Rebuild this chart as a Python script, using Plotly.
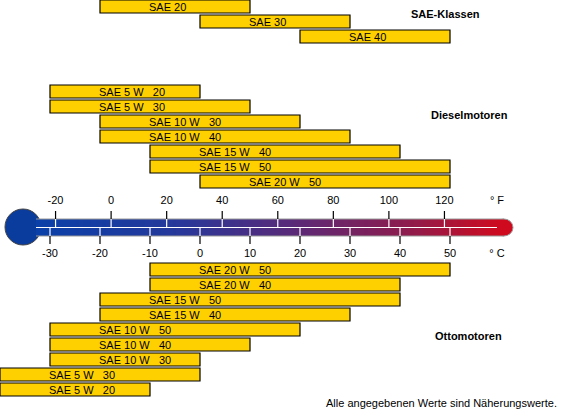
import plotly.graph_objects as go

# SAE-Klassen (Einbereichsöle), Temperaturbereich in °C
sae_namen = ["SAE 20", "SAE 30", "SAE 40"]
sae_von = [-20, 0, 20]
sae_bis = [10, 30, 50]

# Dieselmotoren
diesel_namen = ["SAE 5 W   20", "SAE 5 W   30", "SAE 10 W   30", "SAE 10 W   40",
                "SAE 15 W   40", "SAE 15 W   50", "SAE 20 W   50"]
diesel_von = [-30, -30, -20, -20, -10, -10, 0]
diesel_bis = [0, 10, 20, 30, 40, 50, 50]

# Ottomotoren
otto_namen = ["SAE 20 W   50", "SAE 20 W   40", "SAE 15 W   50", "SAE 15 W   40",
              "SAE 10 W   50", "SAE 10 W   40", "SAE 10 W   30", "SAE 5 W   30", "SAE 5 W   20"]
otto_von = [-10, -10, -20, -20, -30, -30, -30, -40, -40]
otto_bis = [50, 40, 40, 30, 20, 10, 0, 0, -10]

# Skalen am Thermometer
celsius_ticks = [-30, -20, -10, 0, 10, 20, 30, 40, 50]
fahrenheit_ticks = [-20, 0, 20, 40, 60, 80, 100, 120]

W, H = 563, 410
PX = 5.0  # pixel per °C
C0 = 200  # pixel of 0 °C
FONT = "Liberation Sans, Arial, sans-serif"
GOLD = "#FFD000"


def cx(px):
    # pixel -> °C
    return (px - C0) / PX


fig = go.Figure()


def add_gruppe(namen, von, bis, y_top):
    ys = [y_top + 15 * i + 6.5 for i in range(len(namen))]
    fig.add_trace(go.Bar(
        orientation="h", y=ys, base=von, x=[b - v for v, b in zip(von, bis)],
        width=13, marker=dict(color=GOLD, line=dict(color="black", width=1.2)),
        hoverinfo="skip", showlegend=False))
    for n, v, y in zip(namen, von, ys):
        fig.add_annotation(x=v + 47 / PX, y=y, text=n.replace("  ", "\u00a0\u00a0"),
                           xanchor="left", yanchor="middle", showarrow=False,
                           font=dict(family=FONT, size=11, color="black"))


add_gruppe(sae_namen, sae_von, sae_bis, 0)
add_gruppe(diesel_namen, diesel_von, diesel_bis, 85)
add_gruppe(otto_namen, otto_von, otto_bis, 263)

# Thermometer
t_top, t_bot, t_mid = 219, 236, 227.5
n = 120
x_edges = [cx(36) + i * (cx(504) - cx(36)) / n for i in range(n + 1)]
fig.add_trace(go.Heatmap(
    x=x_edges, y=[t_top, t_bot], z=[list(range(n))],
    colorscale=[[0, "#0a40a8"], [0.3, "#26389a"], [0.55, "#5a2a78"],
                [0.8, "#8e1c4c"], [1, "#d00a1e"]],
    showscale=False, hoverinfo="skip"))
# Kugel und rundes Ende
fig.add_shape(type="circle", layer="below", x0=cx(5), x1=cx(41), y0=209, y1=245,
              fillcolor="#0a3c9e", line=dict(color="#444", width=1))
fig.add_shape(type="circle", layer="below", x0=cx(495), x1=cx(513), y0=t_top, y1=t_bot,
              fillcolor="#d00a1e", line=dict(color="#999", width=1))
# Rand des Rohrs
fig.add_trace(go.Scatter(x=[cx(36), cx(504), None, cx(36), cx(504)],
                         y=[t_top, t_top, None, t_bot, t_bot], mode="lines",
                         line=dict(color="#999", width=1), hoverinfo="skip", showlegend=False))
# weisse Mittellinie
fig.add_trace(go.Scatter(x=[cx(36), cx(497)], y=[t_mid, t_mid], mode="lines",
                         line=dict(color="white", width=1.2), hoverinfo="skip", showlegend=False))

f_c = [(f - 32) * 5 / 9 for f in fahrenheit_ticks]
xs_b, ys_b, xs_w, ys_w = [], [], [], []
for c in f_c:
    xs_b += [c, c, None]
    ys_b += [211, t_top, None]
    xs_w += [c, c, None]
    ys_w += [t_top, t_mid, None]
for c in celsius_ticks:
    xs_b += [c, c, None]
    ys_b += [t_bot, 244, None]
    xs_w += [c, c, None]
    ys_w += [t_mid, t_bot, None]
fig.add_trace(go.Scatter(x=xs_b, y=ys_b, mode="lines", line=dict(color="black", width=1.2),
                         hoverinfo="skip", showlegend=False))
fig.add_trace(go.Scatter(x=xs_w, y=ys_w, mode="lines", line=dict(color="white", width=1.2),
                         hoverinfo="skip", showlegend=False))

fig.add_trace(go.Scatter(x=f_c + [cx(497)], y=[201] * (len(f_c) + 1),
                         text=[str(f) for f in fahrenheit_ticks] + ["° F"], mode="text",
                         textfont=dict(family=FONT, size=11, color="black"),
                         hoverinfo="skip", showlegend=False))
fig.add_trace(go.Scatter(x=celsius_ticks + [cx(497)], y=[254] * (len(celsius_ticks) + 1),
                         text=[str(c) for c in celsius_ticks] + ["° C"], mode="text",
                         textfont=dict(family=FONT, size=11, color="black"),
                         hoverinfo="skip", showlegend=False))

# Überschriften
for txt, px, py in [("SAE-Klassen", 445, 14), ("Dieselmotoren", 469, 115),
                    ("Ottomotoren", 468, 336)]:
    fig.add_annotation(x=cx(px), y=py, text="<b>" + txt + "</b>", showarrow=False,
                       font=dict(family=FONT, size=11, color="black"))
fig.add_annotation(x=cx(559), y=403, text="Alle angegebenen Werte sind Näherungswerte.",
                   xanchor="right", showarrow=False,
                   font=dict(family=FONT, size=11, color="black"))

fig.update_layout(
    width=W, height=H,
    margin=dict(l=0, r=0, t=0, b=0),
    plot_bgcolor="white", paper_bgcolor="white",
    barmode="overlay",
    xaxis=dict(range=[cx(0), cx(W)], visible=False, fixedrange=True),
    yaxis=dict(range=[H, 0], visible=False, fixedrange=True),
    showlegend=False,
)

fig.write_html("out.html", config={"displayModeBar": False},
               post_script="document.body.style.margin='0';")
